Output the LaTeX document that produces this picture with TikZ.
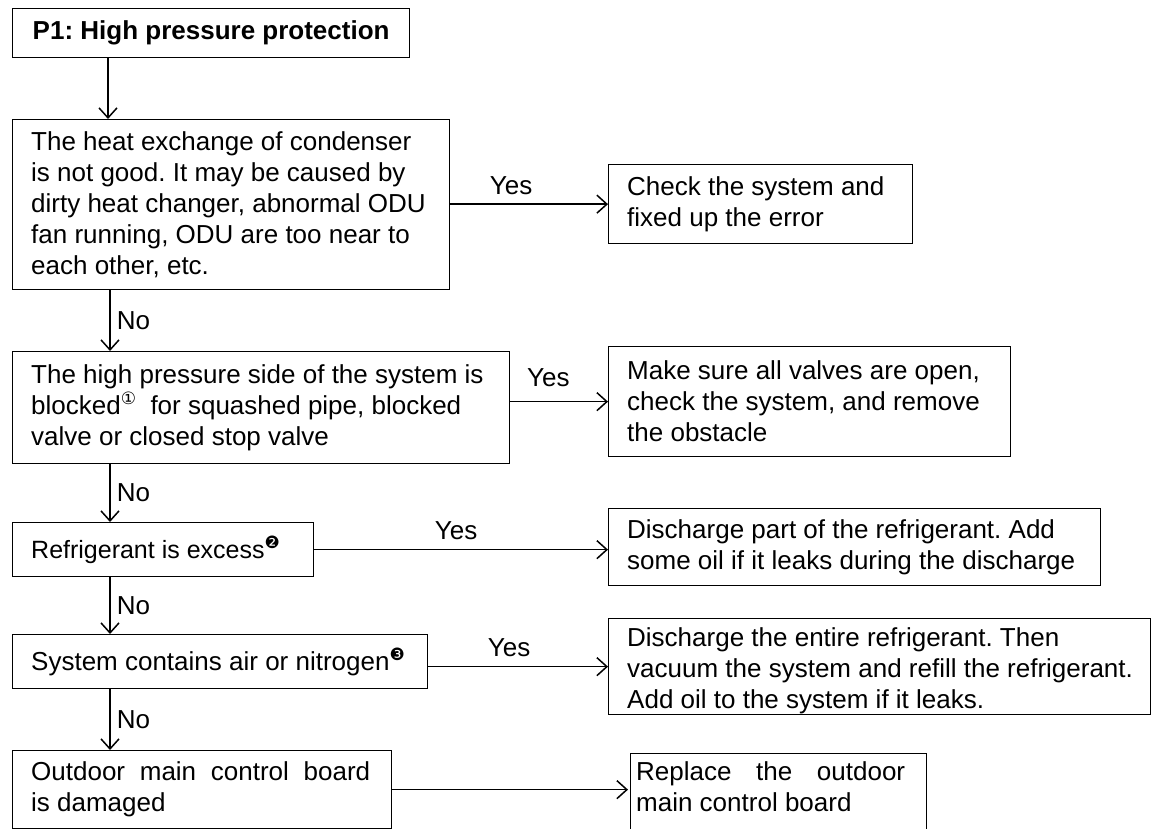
\documentclass[tikz,border=0pt]{standalone}
\usepackage{fontspec}
\setmainfont{Liberation Sans}
\newfontfamily\dejavu{DejaVu Sans}
\usetikzlibrary{arrows.meta,calc}
\newcommand{\circnum}[1]{\raisebox{10pt}{\fontsize{17}{17}\selectfont\dejavu #1}}
\frenchspacing
\begin{document}
\begin{tikzpicture}[x=1pt,y=-1pt,
  font=\frenchspacing\fontsize{26}{31}\selectfont,
  box/.style={draw, line width=1.3pt, inner sep=0pt, anchor=north west},
  txt/.style={inner sep=0pt, anchor=west, align=left, xshift=19pt},
  arr/.style={-{Straight Barb[length=10pt,width=18pt,line width=1.5pt]}, line width=1.5pt},
  lab/.style={inner sep=0pt}]
\useasboundingbox (0,0) rectangle (1163,829);
\clip (0,0) rectangle (1163,829);
% left column boxes
\node[box, minimum width=397pt, minimum height=49pt] (b1) at (12,8) {};
\node[box, minimum width=437pt, minimum height=170pt] (b2) at (12,119) {};
\node[box, minimum width=497pt, minimum height=112pt] (b3) at (12,351) {};
\node[box, minimum width=301pt, minimum height=54pt] (b5) at (12,522) {};
\node[box, minimum width=415pt, minimum height=54pt] (b7) at (12,634) {};
\node[box, minimum width=379pt, minimum height=78pt] (b9) at (12,750) {};
% right column boxes
\node[box, minimum width=304pt, minimum height=79pt] (c1) at (608,164) {};
\node[box, minimum width=402pt, minimum height=110pt] (c2) at (608,346) {};
\node[box, minimum width=492pt, minimum height=77pt] (c3) at (608,508) {};
\node[box, minimum width=542pt, minimum height=96pt] (c4) at (608,618) {};
\node[box, minimum width=296pt, minimum height=100pt] (c5) at (630,753) {};
% texts
\node[inner sep=0pt, font=\frenchspacing\bfseries\fontsize{26}{31}\selectfont] (t1) at (b1.center) {P1: High pressure protection};
\node[txt] (t2) at (b2.west) {The heat exchange of condenser\\is not good. It may be caused by\\dirty heat changer, abnormal ODU\\fan running, ODU are too near to\\each other, etc.};
\node[txt] (t3) at (b3.west) {The high pressure side of the system is\\blocked\circnum{①}\ \ for squashed pipe, blocked\\valve or closed stop valve};
\node[txt, font=\frenchspacing\fontsize{25}{31}\selectfont] (t5) at (b5.west) {Refrigerant is excess\circnum{❷}};
\node[txt] (t7) at (b7.west) {System contains air or nitrogen\circnum{❸}};
\node[txt] (t9) at (b9.west) {\hbox to 339pt{Outdoor\hfill main\hfill control\hfill board}\\is damaged};
\node[txt] (u1) at (c1.west) {Check the system and\\fixed up the error};
\node[txt] (u2) at (c2.west) {Make sure all valves are open,\\check the system, and remove\\the obstacle};
\node[txt] (u3) at (c3.west) {Discharge part of the refrigerant. Add\\some oil if it leaks during the discharge};
\node[txt, yshift=-4pt] (u4) at (c4.west) {Discharge the entire refrigerant. Then\\vacuum the system and refill the refrigerant.\\Add oil to the system if it leaks.};
\node[inner sep=0pt, anchor=north west, align=left] (u5) at ([xshift=6pt, yshift=-8pt]c5.north west) {\hbox to 269pt{Replace\hfill the\hfill outdoor}\\main control board};
% vertical connectors
\draw[arr] ([xshift=96pt]b1.south west) -- ([xshift=96pt]b2.north west);
\draw[arr] ([xshift=98pt]b2.south west) -- node[lab, right, xshift=6pt] {No} ([xshift=98pt]b3.north west);
\draw[arr] ([xshift=98pt]b3.south west) -- node[lab, right, xshift=6pt] {No} ([xshift=98pt]b5.north west);
\draw[arr] ([xshift=98pt]b5.south west) -- node[lab, right, xshift=6pt] {No} ([xshift=98pt]b7.north west);
\draw[arr] ([xshift=98pt]b7.south west) -- node[lab, right, xshift=6pt] {No} ([xshift=98pt]b9.north west);
% horizontal connectors
\draw[arr] (c1.west -| b2.east) -- node[lab, above, pos=0.386, yshift=9pt] {Yes} (c1.west);
\draw[arr] (c2.west -| b3.east) -- node[lab, above, pos=0.39, yshift=14pt] {Yes} (c2.west);
\draw[arr] (b5.east) -- node[lab, above, pos=0.483, yshift=9pt] {Yes} (b5.east -| c3.west);
\draw[arr] (c4.west -| b7.east) -- node[lab, above, pos=0.45, yshift=9pt] {Yes} (c4.west);
\draw[arr, shorten >=2pt] (b9.east) -- (b9.east -| c5.west);
\end{tikzpicture}
\end{document}
